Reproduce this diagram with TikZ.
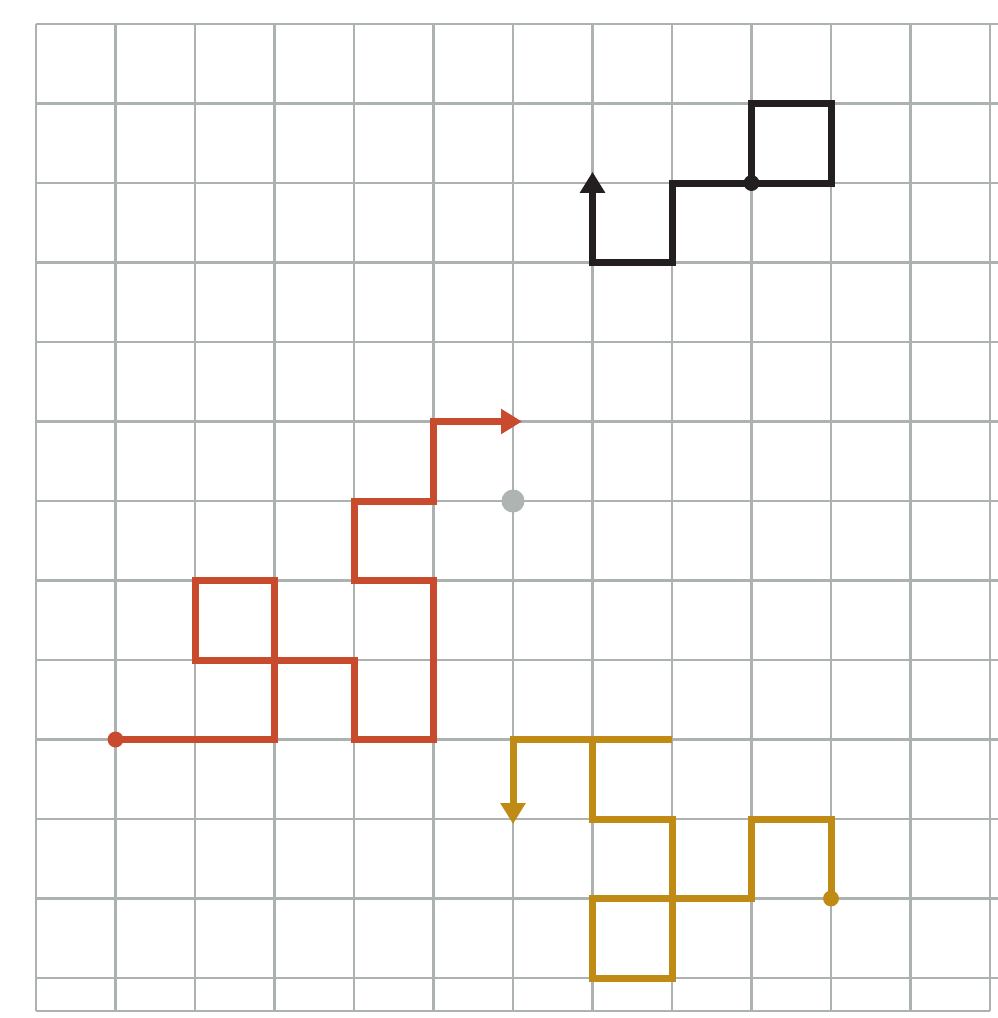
\documentclass[tikz,border=0pt]{standalone}
\usetikzlibrary{arrows.meta}
\definecolor{gridgray}{HTML}{ABB2AF}
\definecolor{walkred}{HTML}{C94B2E}
\definecolor{walkgold}{HTML}{BF8B14}
\definecolor{walkblack}{HTML}{231F20}
\definecolor{origingray}{HTML}{ADB4B1}

\begin{document}
\begin{tikzpicture}[y=-1cm,>={Triangle[length=7.5pt,width=8.6pt]},
  gridline/.style={gridgray,line width=0.75pt},
  walk/.style={line width=2.5pt}]
  \useasboundingbox (-0.453,-0.302) rectangle (12.10,12.503);
  % grid
  \foreach \r in {0,...,12}
    \draw[gridline] (0,\r) -- (12.10,\r);
  \draw[gridline] (0,12.415) -- (12,12.415);
  \foreach \c in {0,...,12}
    \draw[gridline] (\c,0) -- (\c,12.415);
  % origin
  \fill[origingray] (6,6) circle (0.145);
  % black walk
  \draw[->,walk,walkblack,shorten >=-4pt] (9,2) -- (9,1) -- (10,1) -- (10,2) -- (8,2)
    -- (8,3) -- (7,3) -- (7,2);
  \fill[walkblack] (9,2) circle (0.1);
  % red walk
  \draw[->,walk,walkred,shorten >=-3.2pt] (1,9) -- (3,9) -- (3,7) -- (2,7) -- (2,8)
    -- (4,8) -- (4,9) -- (5,9) -- (5,7) -- (4,7) -- (4,6) -- (5,6) -- (5,5) -- (6,5);
  \fill[walkred] (1,9) circle (0.1);
  % gold walk
  \draw[->,walk,walkgold,shorten >=-1.8pt] (10,11) -- (10,10) -- (9,10) -- (9,11)
    -- (7,11) -- (7,12) -- (8,12) -- (8,10) -- (7,10) -- (7,9) -- (8,9) -- (6,9) -- (6,10);
  \fill[walkgold] (10,11) circle (0.1);
\end{tikzpicture}
\end{document}
